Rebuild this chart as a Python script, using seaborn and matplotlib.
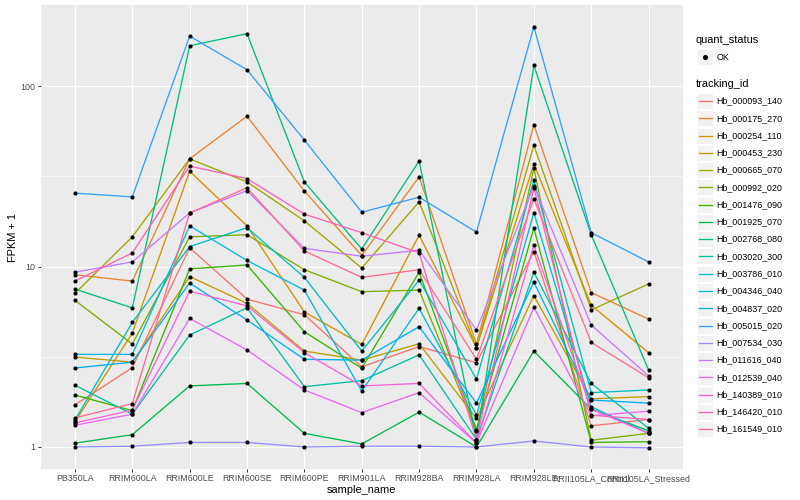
import matplotlib
matplotlib.use("Agg")
import matplotlib.pyplot as plt
from matplotlib.patches import Rectangle
from matplotlib.lines import Line2D
import numpy as np
import pandas as pd
import seaborn as sns

# ---------------- data ----------------
samples = ["PB350LA", "RRIM600LA", "RRIM600LE", "RRIM600SE", "RRIM600PE",
           "RRIM901LA", "RRIM928BA", "RRIM928LA", "RRIM928LE",
           "RRII105LA_Control", "RRII105LA_Stressed"]

tracking_ids = ["Hb_000093_140", "Hb_000175_270", "Hb_000254_110", "Hb_000453_230",
                "Hb_000665_070", "Hb_000992_020", "Hb_001476_090", "Hb_001925_070",
                "Hb_002768_080", "Hb_003020_300", "Hb_003786_010", "Hb_004346_040",
                "Hb_004837_020", "Hb_005015_020", "Hb_007534_030", "Hb_011616_040",
                "Hb_012539_040", "Hb_140389_010", "Hb_146420_010", "Hb_161549_010"]

hb_000093_140 = [1.71, 2.75, 12.7, 6.6, 5.4, 2.78, 3.6, 2.93, 12.1, 1.31, 1.42]
hb_000175_270 = [9.0, 8.3, 39.5, 68, 26.2, 11.5, 31.4, 3.72, 61, 7.17, 5.11]
hb_000254_110 = [1.38, 4.27, 33.7, 16.8, 5.6, 3.7, 14.9, 3.55, 37, 6.1, 3.33]
hb_000453_230 = [3.15, 2.95, 8.8, 6.25, 3.4, 3.03, 3.73, 1.44, 6.9, 1.85, 1.9]
hb_000665_070 = [7.1, 14.6, 39.5, 29.4, 17.9, 9.8, 22.8, 3.55, 47, 5.75, 8.0]
hb_000992_020 = [6.5, 3.72, 14.6, 15, 9.6, 7.25, 7.4, 1.22, 35, 1.09, 1.19]
hb_001476_090 = [1.94, 1.59, 9.7, 10.2, 4.35, 2.73, 9.3, 1.25, 16.3, 1.06, 1.07]
hb_001925_070 = [1.05, 1.17, 2.18, 2.25, 1.19, 1.04, 1.56, 1.0, 3.4, 1.62, 1.23]
hb_002768_080 = [7.5, 5.9, 167, 195, 29.4, 12.5, 38.4, 1.1, 130, 15.0, 2.67]
hb_003020_300 = [2.2, 1.52, 4.17, 5.9, 2.16, 2.33, 3.24, 1.1, 9.3, 2.25, 1.27]
hb_003786_010 = [1.41, 4.9, 12.9, 16.4, 8.7, 3.4, 8.4, 2.38, 30, 2.0, 2.07]
hb_004346_040 = [3.26, 3.26, 16.8, 10.8, 7.4, 2.04, 5.87, 1.5, 19.9, 1.67, 1.19]
hb_004837_020 = [2.74, 2.95, 8.1, 5.05, 3.06, 3.03, 4.64, 1.75, 8.2, 1.82, 1.75]
hb_005015_020 = [25.5, 24.3, 189, 123, 50.2, 20, 24.2, 15.5, 213, 15.4, 10.6]
hb_007534_030 = [1.0, 1.01, 1.06, 1.06, 1.0, 1.01, 1.01, 1.0, 1.08, 1.0, 0.99]
hb_011616_040 = [9.3, 10.6, 19.8, 26.3, 12.6, 11.4, 12.3, 4.45, 28, 4.74, 2.48]
hb_012539_040 = [1.32, 1.52, 5.16, 3.45, 2.07, 1.55, 2.0, 1.05, 5.94, 1.49, 1.58]
hb_140389_010 = [1.36, 1.6, 7.3, 6.05, 3.33, 2.18, 2.25, 1.05, 13.1, 1.62, 1.19]
hb_146420_010 = [8.3, 11.9, 36, 30.7, 19.5, 15.4, 11.9, 1.1, 27.3, 1.5, 1.42]
hb_161549_010 = [1.45, 1.74, 19.8, 27.3, 12.2, 8.7, 9.6, 3.06, 23.8, 3.8, 2.42]

series_values = [hb_000093_140, hb_000175_270, hb_000254_110, hb_000453_230,
                 hb_000665_070, hb_000992_020, hb_001476_090, hb_001925_070,
                 hb_002768_080, hb_003020_300, hb_003786_010, hb_004346_040,
                 hb_004837_020, hb_005015_020, hb_007534_030, hb_011616_040,
                 hb_012539_040, hb_140389_010, hb_146420_010, hb_161549_010]

quant_status = ["OK"]

hue_colors = ["#F8766D", "#EA8331", "#D89000", "#C09B00", "#A3A500", "#7CAE00",
              "#39B600", "#00BB4E", "#00BF7D", "#00C1A3", "#00BFC4", "#00BAE0",
              "#00B0F6", "#35A2FF", "#9590FF", "#C77CFF", "#E76BF3", "#FA62DB",
              "#FF62BC", "#FF6C91"]

rows = []
for tid, vals in zip(tracking_ids, series_values):
    for s, v in zip(samples, vals):
        rows.append({"tracking_id": tid, "sample_name": s, "fpkm1": v,
                     "quant_status": quant_status[0]})
df = pd.DataFrame(rows)

# ---------------- figure ----------------
W, H = 800, 500
fig = plt.figure(figsize=(8, 5), dpi=100)
plt.rcParams['font.family'] = ['Liberation Sans', 'DejaVu Sans']

def fx(x):
    return x / W

def fy(y):
    return 1 - y / H

ax = fig.add_axes([fx(40.5), fy(469), (683 - 40.5) / W, (469 - 5) / H])
ax.set_facecolor("#EBEBEB")

palette = dict(zip(tracking_ids, hue_colors))
sns.lineplot(data=df, x="sample_name", y="fpkm1", hue="tracking_id",
             palette=palette, hue_order=tracking_ids, estimator=None, sort=False,
             units="tracking_id", linewidth=0.95, legend=False, ax=ax, zorder=3)
sns.scatterplot(data=df, x="sample_name", y="fpkm1", color="black", s=9,
                linewidth=0, legend=False, ax=ax, zorder=4)

ax.set_yscale("log")
ax.set_ylim(10 ** (-22 / 180.5), 10 ** (442 / 180.5))
ax.set_xlim(-0.6, len(samples) - 0.4)
ax.set_yticks([1, 10, 100])
ax.set_yticklabels(["1", "10", "100"])
ax.set_yticks([10 ** 0.5, 10 ** 1.5], minor=True)
ax.yaxis.set_minor_formatter(matplotlib.ticker.NullFormatter())
ax.set_xticks(range(len(samples)))
ax.set_xticklabels(samples)

ax.grid(True, which="major", color="white", linewidth=0.85, zorder=0)
ax.grid(True, which="minor", axis="y", color="white", linewidth=0.4, zorder=0)
ax.set_axisbelow(True)
for sp in ax.spines.values():
    sp.set_visible(False)
ax.tick_params(axis="both", which="major", length=2.2, width=0.7, color="#333333",
               labelsize=6.4, labelcolor="#4D4D4D", pad=1.5)
ax.tick_params(axis="y", which="minor", length=0)

ax.set_xlabel("sample_name", fontsize=7.9, color="black", labelpad=1)
ax.set_ylabel("FPKM + 1", fontsize=7.9, color="black", labelpad=2)

# ---------------- legend (ggplot style) ----------------
key = 16.0
kx = 697
fig.text(fx(696), fy(40), "quant_status", fontsize=7.9, va="center", ha="left")
fig.patches.append(Rectangle((fx(kx), fy(57 + key / 2)), key / W, key / H,
                             transform=fig.transFigure, facecolor="#F2F2F2",
                             edgecolor="white", linewidth=0.6))
fig.add_artist(Line2D([fx(kx + key / 2)], [fy(57)], marker="o", markersize=2.6,
                      color="black", linestyle="none", transform=fig.transFigure))
fig.text(fx(716.5), fy(57), quant_status[0], fontsize=6.4, va="center", ha="left")

fig.text(fx(696), fy(84), "tracking_id", fontsize=7.9, va="center", ha="left")
for i, (tid, col) in enumerate(zip(tracking_ids, hue_colors)):
    cy = 101 + i * 17.27
    fig.patches.append(Rectangle((fx(kx), fy(cy + key / 2)), key / W, key / H,
                                 transform=fig.transFigure, facecolor="#F2F2F2",
                                 edgecolor="white", linewidth=0.6))
    fig.add_artist(Line2D([fx(kx + 1.5), fx(kx + key - 1.5)], [fy(cy), fy(cy)],
                          color=col, linewidth=0.95, transform=fig.transFigure))
    fig.text(fx(716.5), fy(cy), tid, fontsize=6.4, va="center", ha="left")

fig.savefig("out.png", dpi=100)
